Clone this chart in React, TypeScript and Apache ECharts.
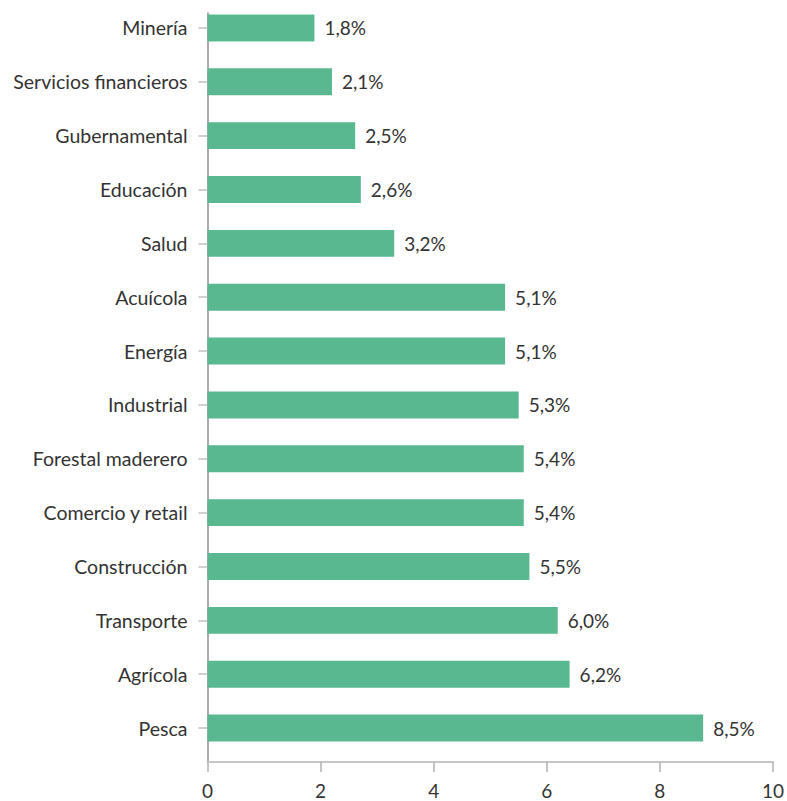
import React, { useEffect, useRef } from "react";
import * as echarts from "echarts";

const categories = [
  "Minería",
  "Servicios financieros",
  "Gubernamental",
  "Educación",
  "Salud",
  "Acuícola",
  "Energía",
  "Industrial",
  "Forestal maderero",
  "Comercio y retail",
  "Construcción",
  "Transporte",
  "Agrícola",
  "Pesca",
];

// bar lengths as drawn in the picture
const barValues = [1.89, 2.2, 2.61, 2.71, 3.3, 5.26, 5.26, 5.5, 5.59, 5.59, 5.69, 6.19, 6.4, 8.76];

// value labels printed next to the bars
const valueLabels = ["1,8%", "2,1%", "2,5%", "2,6%", "3,2%", "5,1%", "5,1%", "5,3%", "5,4%", "5,4%", "5,5%", "6,0%", "6,2%", "8,5%"];

const xMin = 0;
const xMax = 10;
const xInterval = 2;

const FONT = "Lato, 'Noto Sans', sans-serif";
const TEXT = "#333333";

export default function App() {
  const ref = useRef<HTMLDivElement>(null);

  useEffect(() => {
    if (!ref.current) return;
    const chart = echarts.init(ref.current, null, { renderer: "svg" });
    chart.setOption({
      animation: false,
      backgroundColor: "#ffffff",
      textStyle: { fontFamily: FONT },
      grid: [
        { left: 207.5, top: 1, width: 565.8, height: 754, containLabel: false },
        { left: 207.5, top: 13, width: 565.8, height: 749, containLabel: false },
      ],
      xAxis: [
        {
          gridIndex: 0,
          type: "value",
          min: xMin,
          max: xMax,
          interval: xInterval,
          show: false,
        },
        {
          gridIndex: 1,
          type: "value",
          min: xMin,
          max: xMax,
          interval: xInterval,
          position: "bottom",
          axisLine: { show: true, onZero: false, lineStyle: { color: "#c6c6c6", width: 2 } },
          axisTick: { show: true, length: 10, lineStyle: { color: "#b0b0b0", width: 1.5 } },
          splitLine: { show: false },
          axisLabel: {
            margin: 19,
            fontSize: 19,
            color: TEXT,
            fontFamily: FONT,
          },
        },
      ],
      yAxis: [
        {
          gridIndex: 0,
          type: "category",
          data: categories,
          inverse: true,
          axisLine: { show: false },
          axisTick: { show: true, alignWithLabel: true, length: 9, lineStyle: { color: "#c0c0c0", width: 1.5 } },
          axisLabel: { margin: 20, fontSize: 19.5, color: TEXT, fontFamily: FONT },
          splitLine: { show: false },
        },
        {
          gridIndex: 1,
          type: "value",
          min: 0,
          max: 1,
          position: "left",
          axisLine: { show: true, onZero: false, lineStyle: { color: "#909090", width: 1.5 } },
          axisTick: { show: false },
          axisLabel: { show: false },
          splitLine: { show: false },
        },
      ],
      series: [
        {
          type: "bar",
          xAxisIndex: 0,
          yAxisIndex: 0,
          data: barValues,
          barWidth: "50%",
          itemStyle: { color: "#5ab891" },
          label: {
            show: true,
            position: "right",
            distance: 10,
            fontSize: 19,
            color: TEXT,
            fontFamily: FONT,
            formatter: (p: any) => valueLabels[p.dataIndex],
          },
        },
      ],
    });
    return () => chart.dispose();
  }, []);

  return (
    <div
      ref={ref}
      style={{ position: "fixed", left: 0, top: 0, width: 787, height: 801 }}
    />
  );
}
